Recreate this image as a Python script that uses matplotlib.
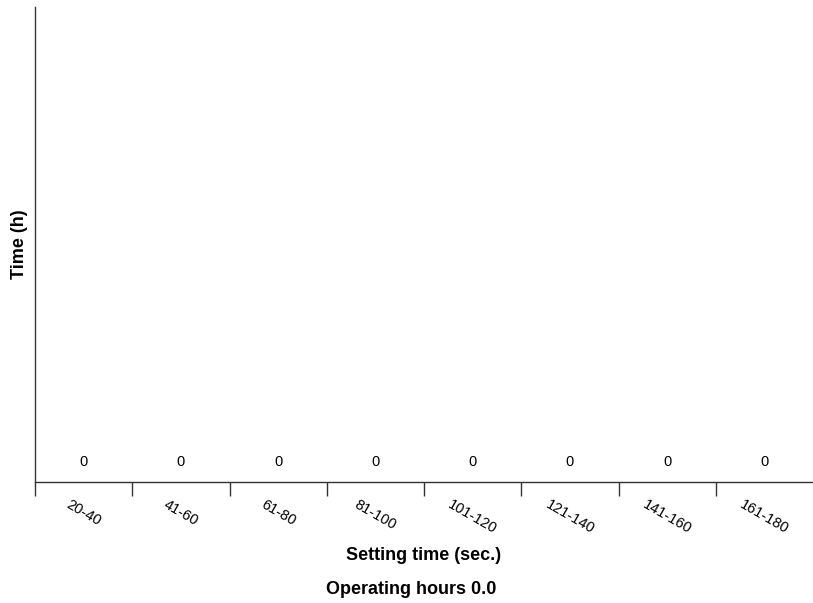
import numpy as np
import matplotlib.pyplot as plt
from matplotlib.ticker import FixedLocator

plt.rcParams['font.family'] = ['Liberation Sans', 'DejaVu Sans']

# data
categories = ['20-40', '41-60', '61-80', '81-100', '101-120', '121-140', '141-160', '161-180']
hours = [0, 0, 0, 0, 0, 0, 0, 0]
operating_hours = 0.0

fig = plt.figure(figsize=(8.13, 6.03), dpi=100, facecolor='white')
ax = fig.add_axes([35/813, 1 - 482/603, 1 - 35/813, 475/603])

x = np.arange(len(categories))
bars = ax.bar(x, hours, width=0.8, color='#4a7ebb')
ax.bar_label(bars, labels=[str(v) for v in hours], padding=9, fontsize=10.5, color='black')

ax.set_xlim(-0.5, len(categories) - 0.5)
ax.set_ylim(0, 1)

# band boundary ticks + centred labels
ax.xaxis.set_major_locator(FixedLocator(x - 0.5))
ax.xaxis.set_major_formatter(plt.NullFormatter())
ax.xaxis.set_minor_locator(FixedLocator(x))
ax.set_xticklabels(categories, minor=True, rotation=-30, ha='center', fontsize=10.5)
ax.tick_params(axis='x', which='major', length=10, width=1, color='#333333')
ax.tick_params(axis='x', which='minor', length=0, pad=11)
ax.set_yticks([])

for s in ['top', 'right']:
    ax.spines[s].set_visible(False)
for s in ['left', 'bottom']:
    ax.spines[s].set_color('#333333')
    ax.spines[s].set_linewidth(1)

ax.set_xlabel('Setting time (sec.)', fontsize=13, fontweight='bold', labelpad=8)
ax.set_ylabel('Time (h)', fontsize=13, fontweight='bold', labelpad=5)

fig.text(411/813, 1 - 590/603, 'Operating hours %.1f' % operating_hours,
         ha='center', va='center', fontsize=13, fontweight='bold')

fig.savefig('out.png', dpi=100, facecolor='white')
